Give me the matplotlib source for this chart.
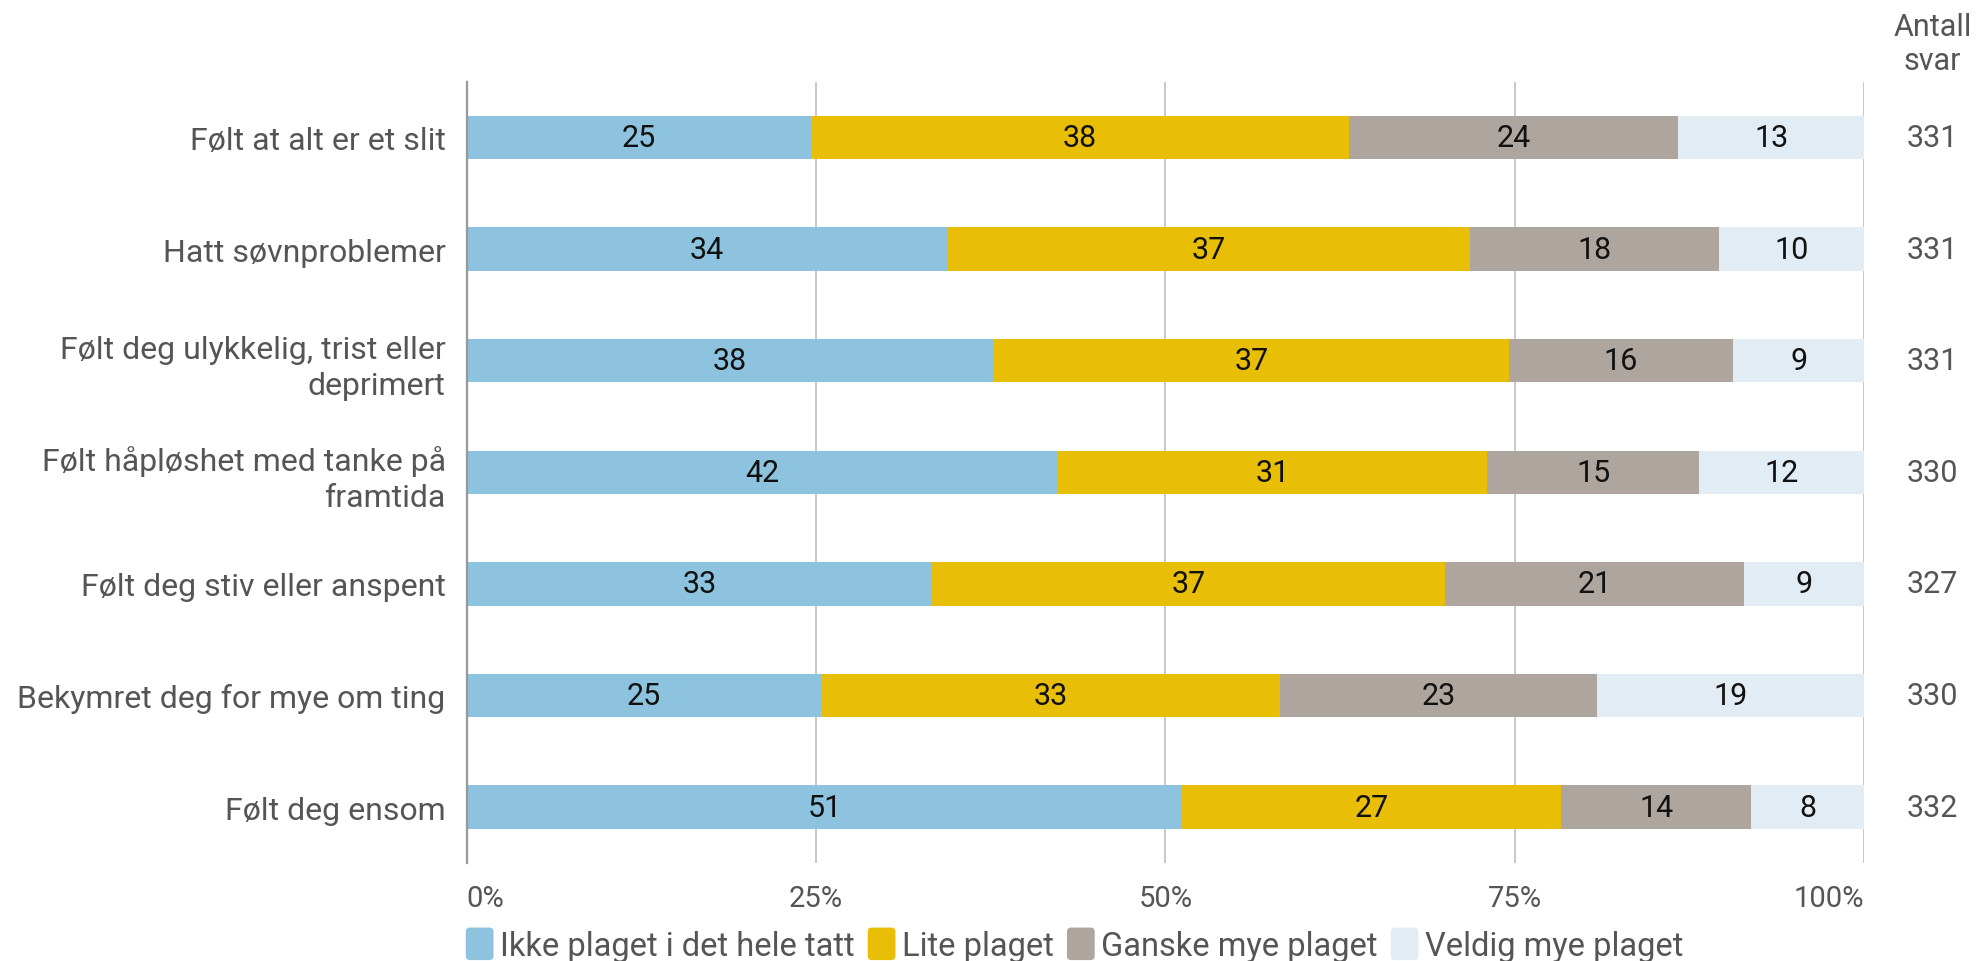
import matplotlib
matplotlib.use("Agg")
import matplotlib.pyplot as plt
from matplotlib.patches import Patch, FancyBboxPatch
from matplotlib.legend_handler import HandlerPatch
import numpy as np

plt.rcParams['font.family'] = ['Roboto', 'DejaVu Sans']

categories = [
    "Følt at alt er et slit",
    "Hatt søvnproblemer",
    "Følt deg ulykkelig, trist eller\ndeprimert",
    "Følt håpløshet med tanke på\nframtida",
    "Følt deg stiv eller anspent",
    "Bekymret deg for mye om ting",
    "Følt deg ensom",
]
series_names = ["Ikke plaget i det hele tatt", "Lite plaget", "Ganske mye plaget", "Veldig mye plaget"]
ikke = [24.7, 34.4, 37.7, 42.3, 33.3, 25.4, 51.2]
lite = [38.4, 37.4, 36.9, 30.7, 36.7, 32.8, 27.1]
ganske = [23.6, 17.8, 16.0, 15.2, 21.4, 22.7, 13.6]
veldig = [13.3, 10.4, 9.4, 11.8, 8.6, 19.1, 8.1]
antall = [331, 331, 331, 330, 327, 330, 332]
xticks = [0, 25, 50, 75, 100]
xticklabels = ["0%", "25%", "50%", "75%", "100%"]

colors = ["#8EC3DF", "#E9BE07", "#AEA59F", "#E2ECF5"]
text_grey = "#555555"

fig = plt.figure(figsize=(19.77, 9.62), dpi=100)
ax = fig.add_axes([0.236, 0.102, 0.707, 0.812])

y = np.arange(len(categories))
left = np.zeros(len(categories))
for vals, col in zip([ikke, lite, ganske, veldig], colors):
    vals = np.array(vals)
    ax.barh(y, vals, left=left, height=0.39, color=col, zorder=2)
    for yi, (l, v) in enumerate(zip(left, vals)):
        ax.text(l + v / 2, yi, f"{round(v):d}", ha="center", va="center",
                fontsize=22, color="#111111", zorder=3)
    left += vals

ax.set_xlim(0, 100)
ax.set_ylim(6.5, -0.5)
ax.set_yticks(y)
ax.set_yticklabels(categories, fontsize=23, color=text_grey, linespacing=1.3)
ax.set_xticks(xticks)
ax.set_xticklabels(xticklabels, fontsize=21, color=text_grey)
labels = ax.get_xticklabels()
labels[0].set_horizontalalignment("left")
labels[-1].set_horizontalalignment("right")
ax.tick_params(axis="both", length=0)
ax.tick_params(axis="y", pad=15)
ax.tick_params(axis="x", pad=15)
for s in ["top", "right", "bottom"]:
    ax.spines[s].set_visible(False)
ax.spines["left"].set_color("#999999")
ax.spines["left"].set_linewidth(1.6)
ax.grid(axis="x", color="#C4C4C4", linewidth=1.3, zorder=0)
ax.set_axisbelow(True)

for yi, n in enumerate(antall):
    ax.text(1.0487, yi, str(n), transform=ax.get_yaxis_transform(),
            ha="center", va="center", fontsize=22, color=text_grey)
fig.text(0.9775, 0.954, "Antall\nsvar", ha="center", va="center", fontsize=22,
         color=text_grey, linespacing=1.2)


class RoundHandler(HandlerPatch):
    def create_artists(self, legend, orig_handle, xdescent, ydescent, width, height, fontsize, trans):
        p = FancyBboxPatch((-xdescent, -ydescent - height * 0.1), width, height * 1.2,
                           boxstyle="round,pad=0,rounding_size=3",
                           facecolor=orig_handle.get_facecolor(), edgecolor="none",
                           transform=trans)
        return [p]


handles = [Patch(facecolor=c, edgecolor="none") for c in colors]
leg = fig.legend(handles, series_names, loc="center left", bbox_to_anchor=(0.229, 0.0155),
                 ncol=4, frameon=False, fontsize=23.5, handlelength=0.85, handleheight=0.9,
                 handletextpad=0.2, columnspacing=0.4, borderaxespad=0,
                 handler_map={Patch: RoundHandler()})
for t in leg.get_texts():
    t.set_color(text_grey)

fig.savefig("out.png", dpi=100)
